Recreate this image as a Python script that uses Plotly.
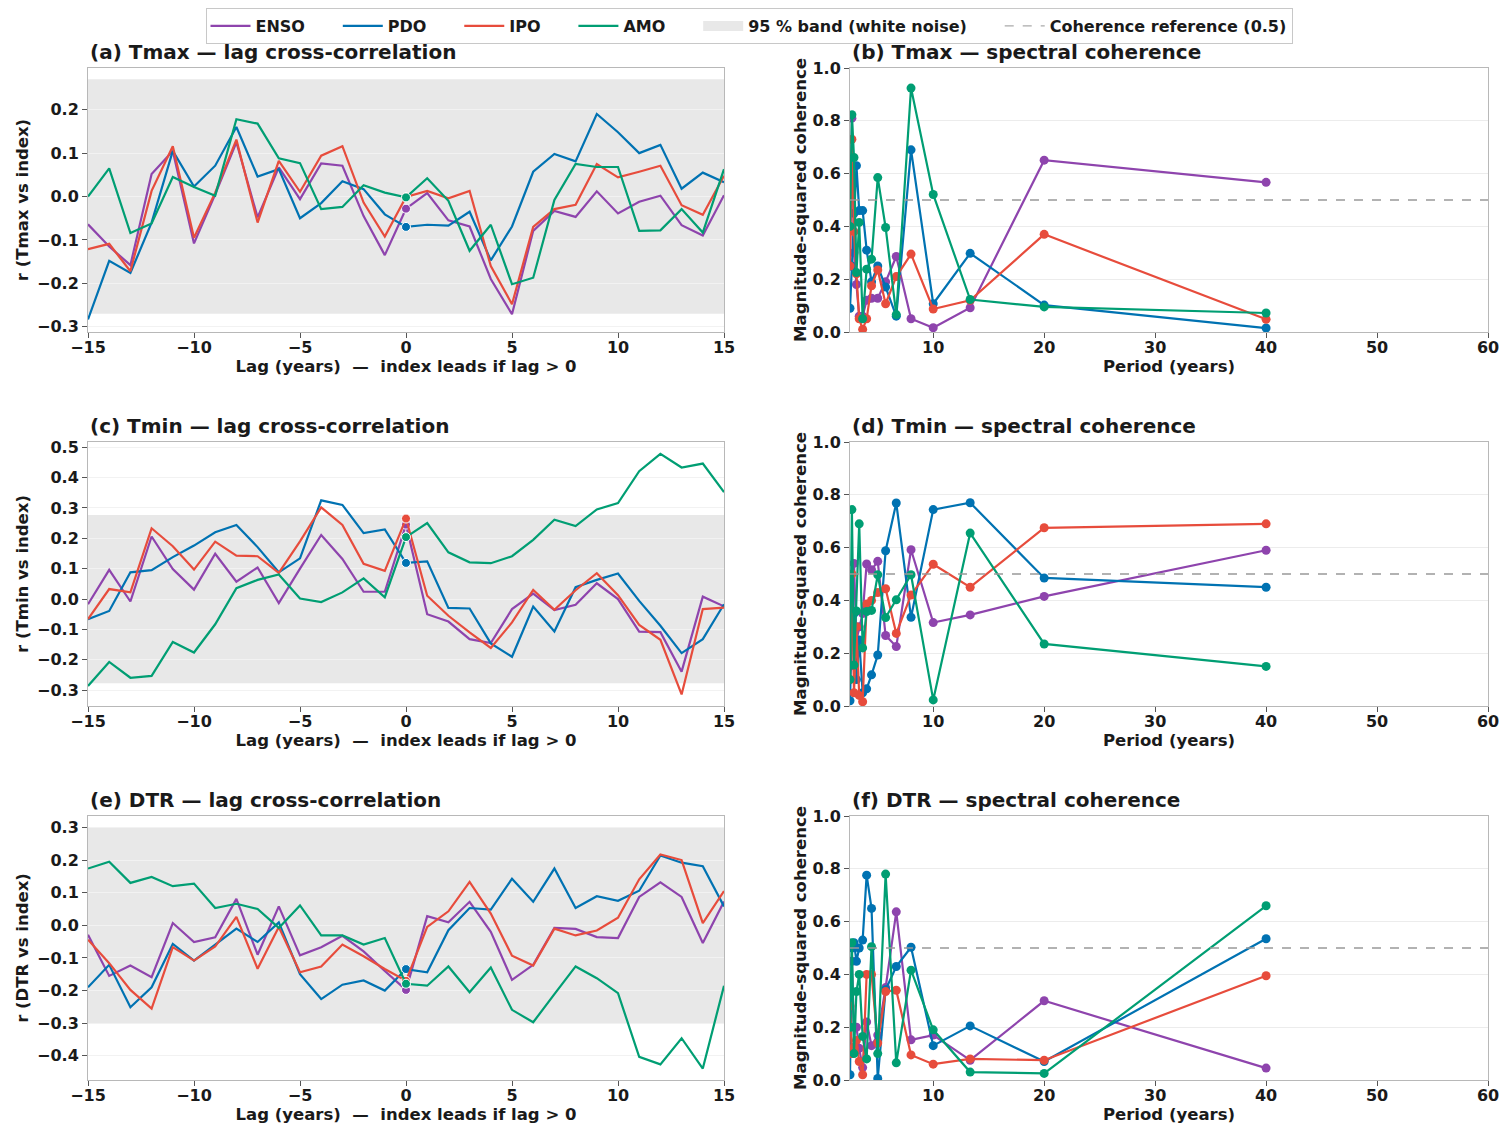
import plotly.graph_objects as go
from plotly.subplots import make_subplots

# lag axis (years) and coherence periods (years)
LAGS = list(range(-15, 16))
PERIODS = [40.0, 20.0, 13.33, 10.0, 8.0, 6.67, 5.71, 5.0, 4.44, 4.0, 3.64, 3.33, 3.08, 2.86, 2.67, 2.5]

INDICES = ['ENSO', 'PDO', 'IPO', 'AMO']
COLORS = {'ENSO': '#8e44ad', 'PDO': '#0072b2', 'IPO': '#e74c3c', 'AMO': '#009e73'}

# lag cross-correlation, Tmax
TMAX_R_ENSO = [-0.064, -0.115, -0.158, 0.052, 0.105, -0.108, 0.005, 0.125, -0.048, 0.067, -0.006, 0.076, 0.071, -0.045, -0.135, -0.028,
               0.008, -0.055, -0.069, -0.19, -0.271, -0.079, -0.033, -0.047, 0.012, -0.039, -0.012, 0.002, -0.066, -0.09, 0.003]
TMAX_R_PDO = [-0.283, -0.148, -0.176, -0.06, 0.105, 0.023, 0.071, 0.16, 0.046, 0.063, -0.05, -0.015, 0.035, 0.017, -0.041, -0.07,
              -0.065, -0.067, -0.035, -0.147, -0.069, 0.057, 0.098, 0.081, 0.19, 0.148, 0.1, 0.119, 0.018, 0.055, 0.033]
TMAX_R_IPO = [-0.121, -0.109, -0.172, 0.013, 0.116, -0.095, 0.009, 0.131, -0.06, 0.082, 0.011, 0.094, 0.116, -0.014, -0.092, -0.001,
              0.013, -0.004, 0.013, -0.16, -0.248, -0.07, -0.029, -0.019, 0.075, 0.044, 0.057, 0.071, -0.02, -0.042, 0.048]
TMAX_R_AMO = [0.0, 0.065, -0.084, -0.062, 0.045, 0.022, 0.002, 0.178, 0.168, 0.088, 0.077, -0.029, -0.024, 0.026, 0.009, -0.002,
              0.042, -0.01, -0.125, -0.065, -0.202, -0.187, -0.008, 0.075, 0.068, 0.068, -0.079, -0.078, -0.029, -0.083, 0.063]

# lag cross-correlation, Tmin
TMIN_R_ENSO = [-0.017, 0.096, -0.008, 0.206, 0.099, 0.031, 0.149, 0.057, 0.104, -0.013, 0.1, 0.211, 0.132, 0.024, 0.024, 0.245,
               -0.05, -0.074, -0.132, -0.145, -0.033, 0.018, -0.036, -0.019, 0.052, 0.0, -0.107, -0.109, -0.239, 0.008, -0.024]
TMIN_R_PDO = [-0.066, -0.039, 0.088, 0.095, 0.138, 0.176, 0.22, 0.244, 0.171, 0.088, 0.134, 0.325, 0.31, 0.217, 0.229, 0.119,
              0.124, -0.029, -0.031, -0.146, -0.19, -0.025, -0.107, 0.039, 0.063, 0.084, -0.006, -0.088, -0.178, -0.132, -0.017]
TMIN_R_IPO = [-0.066, 0.033, 0.022, 0.233, 0.174, 0.097, 0.189, 0.143, 0.141, 0.086, 0.19, 0.302, 0.244, 0.116, 0.093, 0.265,
              0.011, -0.055, -0.11, -0.161, -0.077, 0.03, -0.035, 0.029, 0.085, 0.013, -0.085, -0.134, -0.314, -0.033, -0.028]
TMIN_R_AMO = [-0.286, -0.207, -0.259, -0.253, -0.141, -0.176, -0.083, 0.036, 0.063, 0.081, 0.002, -0.01, 0.022, 0.068, 0.006, 0.204,
              0.25, 0.154, 0.121, 0.118, 0.141, 0.195, 0.261, 0.24, 0.295, 0.316, 0.421, 0.478, 0.433, 0.446, 0.352]

# lag cross-correlation, DTR
DTR_R_ENSO = [-0.029, -0.155, -0.123, -0.159, 0.007, -0.051, -0.037, 0.081, -0.09, 0.058, -0.092, -0.067, -0.032, -0.08, -0.14, -0.198,
              0.028, 0.009, 0.072, -0.02, -0.167, -0.121, -0.008, -0.011, -0.036, -0.039, 0.087, 0.132, 0.087, -0.054, 0.073]
DTR_R_PDO = [-0.19, -0.121, -0.251, -0.19, -0.057, -0.108, -0.059, -0.01, -0.051, 0.009, -0.15, -0.226, -0.182, -0.169, -0.2, -0.134,
             -0.144, -0.015, 0.053, 0.048, 0.143, 0.072, 0.174, 0.053, 0.089, 0.075, 0.106, 0.214, 0.192, 0.181, 0.058]
DTR_R_IPO = [-0.044, -0.116, -0.198, -0.255, -0.067, -0.108, -0.065, 0.026, -0.133, -0.005, -0.144, -0.126, -0.059, -0.095, -0.134, -0.17,
             -0.005, 0.043, 0.133, 0.036, -0.093, -0.123, -0.01, -0.031, -0.016, 0.023, 0.141, 0.217, 0.2, 0.007, 0.105]
DTR_R_AMO = [0.174, 0.195, 0.13, 0.148, 0.12, 0.128, 0.053, 0.066, 0.05, -0.008, 0.061, -0.031, -0.031, -0.059, -0.039, -0.179,
             -0.185, -0.126, -0.205, -0.129, -0.259, -0.297, -0.211, -0.126, -0.162, -0.208, -0.403, -0.426, -0.346, -0.439, -0.185]

# magnitude-squared coherence (same order as PERIODS)
TMAX_COH_ENSO = [0.567, 0.651, 0.092, 0.016, 0.05, 0.286, 0.19, 0.128, 0.128, 0.12, 0.06, 0.06, 0.18, 0.3, 0.81, 0.25]
TMAX_COH_PDO = [0.015, 0.102, 0.298, 0.107, 0.69, 0.06, 0.17, 0.25, 0.19, 0.31, 0.46, 0.46, 0.63, 0.45, 0.25, 0.09]
TMAX_COH_IPO = [0.048, 0.37, 0.12, 0.087, 0.295, 0.21, 0.107, 0.235, 0.175, 0.05, 0.01, 0.05, 0.22, 0.38, 0.73, 0.25]
TMAX_COH_AMO = [0.072, 0.095, 0.123, 0.521, 0.924, 0.066, 0.396, 0.585, 0.276, 0.238, 0.05, 0.415, 0.225, 0.661, 0.823, 0.40]

TMIN_COH_ENSO = [0.59, 0.415, 0.345, 0.316, 0.592, 0.225, 0.267, 0.548, 0.516, 0.538, 0.35, 0.3, 0.25, 0.54, 0.3, 0.15]
TMIN_COH_PDO = [0.45, 0.485, 0.77, 0.744, 0.336, 0.769, 0.588, 0.193, 0.118, 0.065, 0.05, 0.25, 0.1, 0.35, 0.3, 0.02]
TMIN_COH_IPO = [0.69, 0.675, 0.45, 0.537, 0.42, 0.275, 0.444, 0.43, 0.40, 0.386, 0.016, 0.04, 0.3, 0.05, 0.5, 0.1]
TMIN_COH_AMO = [0.15, 0.235, 0.655, 0.023, 0.497, 0.402, 0.335, 0.497, 0.362, 0.358, 0.22, 0.69, 0.36, 0.155, 0.744, 0.1]

DTR_COH_ENSO = [0.045, 0.30, 0.075, 0.17, 0.152, 0.637, 0.35, 0.17, 0.13, 0.22, 0.047, 0.12, 0.2, 0.2, 0.45, 0.1]
DTR_COH_PDO = [0.535, 0.07, 0.205, 0.13, 0.503, 0.43, 0.342, 0.006, 0.65, 0.776, 0.53, 0.5, 0.45, 0.52, 0.5, 0.02]
DTR_COH_IPO = [0.395, 0.075, 0.08, 0.06, 0.095, 0.34, 0.335, 0.14, 0.4, 0.4, 0.02, 0.07, 0.15, 0.124, 0.1, 0.28]
DTR_COH_AMO = [0.66, 0.025, 0.03, 0.19, 0.416, 0.065, 0.78, 0.1, 0.505, 0.08, 0.165, 0.4, 0.335, 0.1, 0.52, 0.2]

# 95 % white-noise band half widths
BAND = {'Tmax': 0.27, 'Tmin': 0.277, 'DTR': 0.301}
Y_RANGES = {'Tmax': [-0.312, 0.296], 'Tmin': [-0.352, 0.517], 'DTR': [-0.474, 0.335]}

PANELS = [
    ('Tmax', 'a', 'b',
     dict(ENSO=TMAX_R_ENSO, PDO=TMAX_R_PDO, IPO=TMAX_R_IPO, AMO=TMAX_R_AMO),
     dict(ENSO=TMAX_COH_ENSO, PDO=TMAX_COH_PDO, IPO=TMAX_COH_IPO, AMO=TMAX_COH_AMO)),
    ('Tmin', 'c', 'd',
     dict(ENSO=TMIN_R_ENSO, PDO=TMIN_R_PDO, IPO=TMIN_R_IPO, AMO=TMIN_R_AMO),
     dict(ENSO=TMIN_COH_ENSO, PDO=TMIN_COH_PDO, IPO=TMIN_COH_IPO, AMO=TMIN_COH_AMO)),
    ('DTR', 'e', 'f',
     dict(ENSO=DTR_R_ENSO, PDO=DTR_R_PDO, IPO=DTR_R_IPO, AMO=DTR_R_AMO),
     dict(ENSO=DTR_COH_ENSO, PDO=DTR_COH_PDO, IPO=DTR_COH_IPO, AMO=DTR_COH_AMO)),
]

# the page body adds an 8 px margin, so the figure is that much smaller
OFF = 8
W, H = 1510 - OFF, 1134 - OFF
FONT = 'DejaVu Sans'
INK = '#1a1a1a'
PAD = '\u00a0' * 5  # extra room between legend entries
# plot areas in page pixels
LEFT_X = (88, 724)
RIGHT_X = (850, 1488)
ROWS_Y = [(68, 332), (442, 706), (816, 1080)]


def px_x(x):
    return (x - OFF) / W


def px_y(y):
    return 1 - (y - OFF) / H


fig = make_subplots(rows=3, cols=2)

axis_style = dict(showline=True, linecolor='#b8b8b8', linewidth=1, mirror=True, automargin=False,
                  ticks='outside', ticklen=5, tickcolor='#555555', zeroline=False,
                  tickfont=dict(family=FONT, size=16, color=INK, weight='bold'))
title_font = dict(family=FONT, size=16.5, color=INK, weight='bold')

for row, (var, lab_l, lab_r, xcorr, coh) in enumerate(PANELS, start=1):
    for name in INDICES:
        vals = xcorr[name]
        assert len(vals) == len(LAGS)
        fig.add_trace(go.Scatter(x=LAGS, y=vals, mode='lines', name=name + PAD, legendgroup=name,
                                 showlegend=(row == 1), line=dict(color=COLORS[name], width=2.2)),
                      row=row, col=1)
        i0 = LAGS.index(0)
        fig.add_trace(go.Scatter(x=[LAGS[i0]], y=[vals[i0]], mode='markers', showlegend=False,
                                 marker=dict(color=COLORS[name], size=9, line=dict(color='white', width=1))),
                      row=row, col=1)
    for name in INDICES:
        fig.add_trace(go.Scatter(x=PERIODS, y=coh[name], mode='lines+markers', showlegend=False,
                                 line=dict(color=COLORS[name], width=2.2),
                                 marker=dict(color=COLORS[name], size=9)),
                      row=row, col=2)

    fig.add_hrect(y0=-BAND[var], y1=BAND[var], row=row, col=1, fillcolor='#e8e8e8',
                  line_width=0, layer='below')
    fig.add_hline(y=0.5, row=row, col=2, line=dict(color='#999999', width=1.4, dash='dash'))

    y0, y1 = ROWS_Y[row - 1]
    dom_y = [px_y(y1), px_y(y0)]
    n = 2 * (row - 1) + 1
    xl, yl, xr, yr = f'xaxis{n}', f'yaxis{n}', f'xaxis{n + 1}', f'yaxis{n + 1}'
    fig.layout[xl].update(domain=[px_x(LEFT_X[0]), px_x(LEFT_X[1])], range=[-15, 15],
                          tickvals=[-15, -10, -5, 0, 5, 10, 15], showgrid=False, ticklabelstandoff=-4,
                          title=dict(text='Lag (years)  —  index leads if lag > 0', font=title_font, standoff=0),
                          **axis_style)
    fig.layout[yl].update(domain=dom_y, range=Y_RANGES[var], dtick=0.1, tick0=0, tickformat='.1f',
                          showgrid=True, gridcolor='#f2f2f2', gridwidth=1.2,
                          title=dict(text=f'r ({var} vs index)', font=title_font, standoff=4),
                          **axis_style)
    fig.layout[xr].update(domain=[px_x(RIGHT_X[0]), px_x(RIGHT_X[1])], range=[2.5, 60],
                          tickvals=[10, 20, 30, 40, 50, 60], showgrid=False, ticklabelstandoff=-4,
                          title=dict(text='Period (years)', font=title_font, standoff=0),
                          **axis_style)
    fig.layout[yr].update(domain=dom_y, range=[0, 1.0], dtick=0.2, tick0=0, tickformat='.1f',
                          showgrid=True, gridcolor='#ececec', gridwidth=1.2,
                          title=dict(text='Magnitude-squared coherence', font=title_font, standoff=1),
                          **axis_style)

    for px0, lab, txt in [(LEFT_X[0], lab_l, 'lag cross-correlation'), (RIGHT_X[0], lab_r, 'spectral coherence')]:
        fig.add_annotation(x=px_x(px0), y=dom_y[1], xref='paper', yref='paper', xanchor='left', yanchor='bottom',
                           yshift=2, showarrow=False, text=f'({lab}) {var} — {txt}',
                           font=dict(family=FONT, size=20, color=INK, weight='bold'))

# legend-only entries
fig.add_trace(go.Scatter(x=[None], y=[None], mode='lines', name='95 % band (white noise)' + PAD,
                         line=dict(color='#e8e8e8', width=10)), row=1, col=1)
fig.add_trace(go.Scatter(x=[None], y=[None], mode='lines', name='Coherence reference (0.5)',
                         line=dict(color='#aaaaaa', width=1.2, dash='dash')), row=1, col=1)

fig.update_layout(
    width=W, height=H, autosize=False,
    margin=dict(l=0, r=0, t=0, b=0),
    paper_bgcolor='white', plot_bgcolor='white',
    font=dict(family=FONT, color=INK),
    legend=dict(orientation='h', x=px_x(749), y=px_y(8), xanchor='center', yanchor='top',
                bordercolor='#c8c8c8', borderwidth=1, bgcolor='white',
                font=dict(family=FONT, size=16, color=INK, weight='bold'),
                itemwidth=40, tracegroupgap=0),
)

fig.write_html("out.html")
